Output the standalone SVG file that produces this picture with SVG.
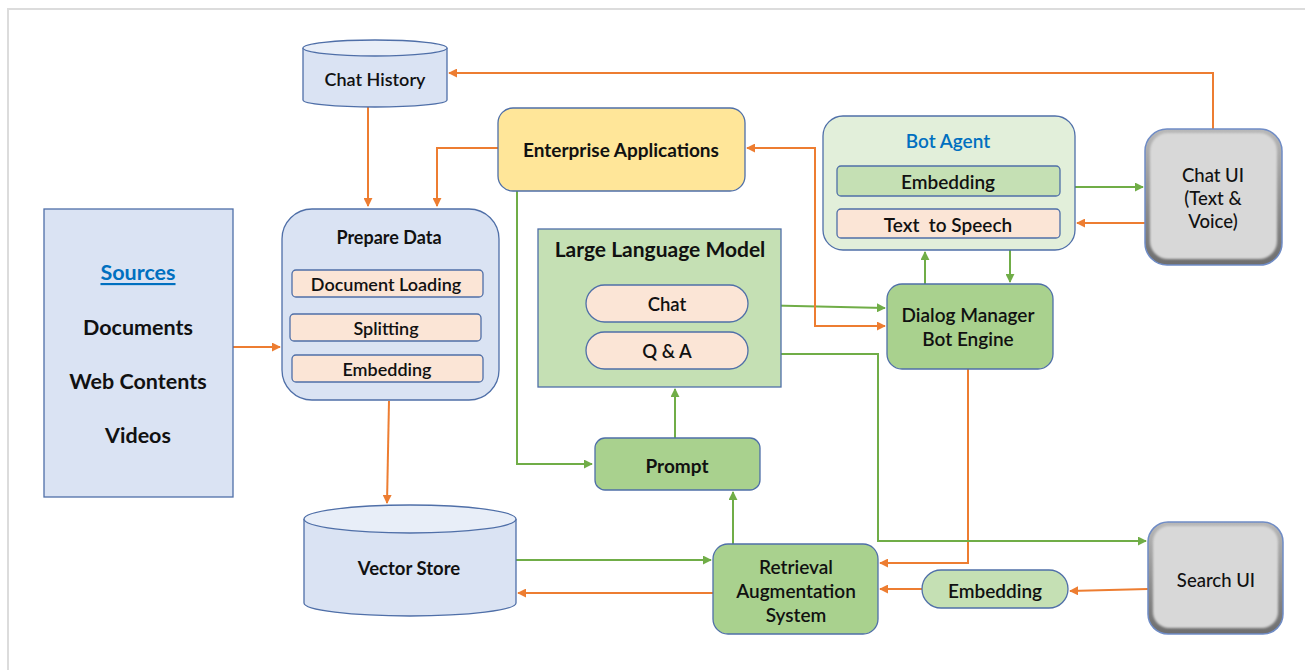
<svg xmlns="http://www.w3.org/2000/svg" width="1305" height="670" viewBox="0 0 1305 670">
  <style>
    text { font-family: Lato, "Open Sans", "Liberation Sans", sans-serif; fill: #111; text-anchor: middle; dominant-baseline: central; font-weight: 600; font-size: 18.5px; }
    .b { font-weight: bold; }
    .blue { fill: #dae3f3; stroke: #4f6fa8; stroke-width: 1.3; }
    .peach { fill: #fbe5d6; stroke: #4f6fa8; stroke-width: 1.3; }
    .lgreen { fill: #c5e0b4; stroke: #4f6fa8; stroke-width: 1.3; }
    .pgreen { fill: #e2efda; stroke: #4f6fa8; stroke-width: 1.3; }
    .green { fill: #a9d18e; stroke: #4f6fa8; stroke-width: 1.3; }
    .yellow { fill: #ffe699; stroke: #4f6fa8; stroke-width: 1.3; }
    .cyl { fill: #dae3f3; stroke: #4f6fa8; stroke-width: 1.3; }
    .cyltop { fill: #e8eef8; stroke: #4f6fa8; stroke-width: 1.3; }
    .og { fill: none; stroke: #ed7d31; stroke-width: 2; marker-end: url(#ao); }
    .gr { fill: none; stroke: #70ad47; stroke-width: 2; marker-end: url(#ag); }
    .ui { font-weight: 500; }
  </style>
  <defs>
    <marker id="ao" viewBox="0 0 10 10" refX="9" refY="5" markerWidth="9" markerHeight="9" markerUnits="userSpaceOnUse" orient="auto-start-reverse">
      <path d="M0,0 L10,5 L0,10 z" fill="#ed7d31"/>
    </marker>
    <marker id="ag" viewBox="0 0 10 10" refX="9" refY="5" markerWidth="9" markerHeight="9" markerUnits="userSpaceOnUse" orient="auto-start-reverse">
      <path d="M0,0 L10,5 L0,10 z" fill="#70ad47"/>
    </marker>
    <linearGradient id="bevel" x1="0" y1="0" x2="0" y2="1">
      <stop offset="0" stop-color="#b8b8b8"/>
      <stop offset="1" stop-color="#6e6e6e"/>
    </linearGradient>
    <filter id="soft" x="-5%" y="-5%" width="110%" height="110%">
      <feGaussianBlur stdDeviation="1.2"/>
    </filter>
  </defs>

  <!-- page frame -->
  <rect x="8" y="9" width="1310" height="670" fill="#fff" stroke="#dcdcdc" stroke-width="2"/>

  <!-- connectors -->
  <g id="connectors">
    <polyline class="og" points="1213,129 1213,73 449,73"/>
    <polyline class="og" points="368,107 368,206"/>
    <polyline class="og" points="498,148 437,148 437,206"/>
    <polyline class="og" points="233,347 280,347"/>
    <polyline class="og" points="389,401 387,503"/>
    <polyline class="gr" points="517,191 517,464 592,464"/>
    <polyline class="gr" points="675,438 675,389"/>
    <polyline class="gr" points="733,544 733,492"/>
    <polyline class="gr" points="516,560 711,560"/>
    <polyline class="og" points="713,593 518,593"/>
    <polyline class="og" points="968,369 968,563 880,563"/>
    <polyline class="og" points="922,589 880,589"/>
    <polyline class="og" points="1148,589 1070,591"/>
    <polyline class="gr" points="748,354 878,354 878,541 1146,541"/>
    <polyline class="gr" points="748,305 885,308"/>
    <polyline class="og" style="marker-start:url(#ao)" points="747,148 815,148 815,326 885,326"/>
    <polyline class="gr" points="925,284 925,252"/>
    <polyline class="gr" points="1010,250 1010,282"/>
    <polyline class="gr" points="1075,187 1143,187"/>
    <polyline class="og" points="1145,223 1077,223"/>
  </g>

  <!-- Chat History store -->
  <g id="chat-history">
    <path class="cyl" d="M303,48 L303,100 A72,7 0 0 0 447,100 L447,48"/>
    <ellipse class="cyltop" cx="375" cy="48" rx="72" ry="8"/>
    <text x="375" y="79" style="font-size:18px">Chat History</text>
  </g>

  <!-- Sources -->
  <g id="sources">
    <rect class="blue" x="44" y="209" width="189" height="288"/>
    <text x="138" y="272" class="b" style="font-size:21.5px;fill:#0070c0;text-decoration:underline">Sources</text>
    <text x="138" y="327" class="b" style="font-size:21.5px">Documents</text>
    <text x="138" y="381" class="b" style="font-size:21.5px">Web Contents</text>
    <text x="138" y="435" class="b" style="font-size:21.5px">Videos</text>
  </g>

  <!-- Prepare Data -->
  <g id="prepare-data">
    <rect class="blue" x="282" y="209" width="217" height="191" rx="30"/>
    <text x="389" y="237" class="b" style="font-size:18px">Prepare Data</text>
    <rect class="peach" x="292" y="270" width="191" height="27" rx="4"/>
    <text x="386" y="284" style="font-size:18px">Document Loading</text>
    <rect class="peach" x="290" y="314" width="191" height="27" rx="4"/>
    <text x="386" y="328" style="font-size:18px">Splitting</text>
    <rect class="peach" x="292" y="355" width="191" height="27" rx="4"/>
    <text x="387" y="369" style="font-size:18px">Embedding</text>
  </g>

  <!-- Vector Store -->
  <g id="vector-store">
    <path class="cyl" d="M304,519 L304,603 A106,13 0 0 0 516,603 L516,519"/>
    <ellipse class="cyltop" cx="410" cy="519" rx="106" ry="14"/>
    <text x="409" y="568" class="b" style="font-size:18.5px">Vector Store</text>
  </g>

  <!-- Enterprise Applications -->
  <g id="enterprise-apps">
    <rect class="yellow" x="498" y="108" width="247" height="83" rx="15"/>
    <text x="621" y="149" class="b" style="font-size:19px">Enterprise Applications</text>
  </g>

  <!-- Large Language Model -->
  <g id="llm">
    <rect class="lgreen" x="538" y="229" width="243" height="158"/>
    <text x="660" y="248" class="b" style="font-size:21px">Large Language Model</text>
    <rect class="peach" x="586" y="285" width="162" height="37" rx="18.5"/>
    <text x="667" y="304">Chat</text>
    <rect class="peach" x="586" y="332" width="162" height="37" rx="18.5"/>
    <text x="667" y="351">Q &amp; A</text>
  </g>

  <!-- Prompt -->
  <g id="prompt">
    <rect class="green" x="595" y="438" width="165" height="52" rx="10"/>
    <text x="677" y="465" class="b" style="font-size:19px">Prompt</text>
  </g>

  <!-- Retrieval Augmentation System -->
  <g id="ras">
    <rect class="green" x="713" y="544" width="165" height="90" rx="15"/>
    <text x="796" y="566" style="font-size:19px">Retrieval</text>
    <text x="796" y="590" style="font-size:19px">Augmentation</text>
    <text x="796" y="614" style="font-size:19px">System</text>
  </g>

  <!-- Query embedding -->
  <g id="query-embedding">
    <rect class="lgreen" x="922" y="570" width="146" height="38" rx="19"/>
    <text x="995" y="590" style="font-size:19px">Embedding</text>
  </g>

  <!-- Bot Agent -->
  <g id="bot-agent">
    <rect class="pgreen" x="823" y="116" width="252" height="134" rx="20"/>
    <text x="948" y="140" style="font-size:19px;fill:#0070c0">Bot Agent</text>
    <rect class="lgreen" x="837" y="166" width="223" height="30" rx="4"/>
    <text x="948" y="181" style="font-size:19px">Embedding</text>
    <rect class="peach" x="837" y="209" width="223" height="29" rx="4"/>
    <text x="948" y="224" style="font-size:19px" xml:space="preserve">Text  to Speech</text>
  </g>

  <!-- Dialog Manager -->
  <g id="dialog-manager">
    <rect class="green" x="887" y="284" width="166" height="85" rx="15"/>
    <text x="968" y="314" style="font-size:19px">Dialog Manager</text>
    <text x="968" y="338" style="font-size:19px">Bot Engine</text>
  </g>

  <!-- Chat UI -->
  <g id="chat-ui">
    <rect x="1145" y="129" width="137" height="136" rx="22" fill="url(#bevel)" stroke="#6f8cc6" stroke-width="1.5"/>
    <rect x="1150" y="133" width="127" height="126" rx="18" fill="#d8d8d8" filter="url(#soft)"/>
    <text x="1213" y="175" class="ui">Chat UI</text>
    <text x="1213" y="198" class="ui">(Text &amp;</text>
    <text x="1213" y="221" class="ui">Voice)</text>
  </g>

  <!-- Search UI -->
  <g id="search-ui">
    <rect x="1148" y="522" width="135" height="112" rx="20" fill="url(#bevel)" stroke="#6f8cc6" stroke-width="1.5"/>
    <rect x="1153" y="526" width="125" height="102" rx="16" fill="#d8d8d8" filter="url(#soft)"/>
    <text x="1216" y="580" class="ui">Search UI</text>
  </g>
</svg>
